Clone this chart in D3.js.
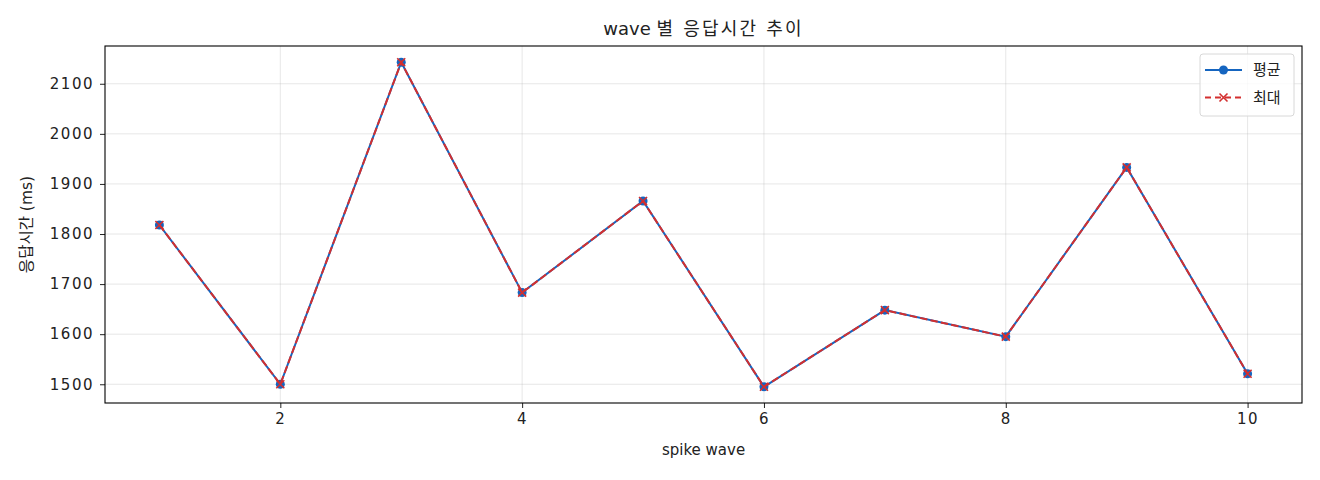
<!DOCTYPE html>
<html>
<head>
<meta charset="utf-8">
<script src="https://cdn.jsdelivr.net/npm/d3@7"></script>
<style>
  body { margin: 0; background: #fff; }
  text { font-family: "DejaVu Sans", "Noto Sans CJK KR", sans-serif; fill: #222; }
</style>
</head>
<body>
<div id="chart"></div>
<script>
// Data
const waves = [1, 2, 3, 4, 5, 6, 7, 8, 9, 10];
const avgMs = [1818, 1500, 2143, 1683, 1866, 1495, 1648, 1595, 1933, 1521];
const maxMs = [1818, 1500, 2143, 1683, 1866, 1495, 1648, 1595, 1933, 1521];
const xTicks = [2, 4, 6, 8, 10];
const yTicks = [1500, 1600, 1700, 1800, 1900, 2000, 2100];

const width = 1320, height = 480;
const margin = { top: 46, right: 18, bottom: 77, left: 105 };
const innerW = width - margin.left - margin.right;
const innerH = height - margin.top - margin.bottom;

const svg = d3.select('#chart')
    .append('svg')
    .attr('width', width)
    .attr('height', height);

const g = svg.append('g')
    .attr('transform', `translate(${margin.left},${margin.top})`);

// Scales with matplotlib-style 5% padding
const xPad = (d3.max(waves) - d3.min(waves)) * 0.05;
const x = d3.scaleLinear()
    .domain([d3.min(waves) - xPad, d3.max(waves) + xPad])
    .range([0, innerW]);

const yMin = d3.min(avgMs.concat(maxMs)), yMax = d3.max(avgMs.concat(maxMs));
const yPad = (yMax - yMin) * 0.05;
const y = d3.scaleLinear()
    .domain([yMin - yPad, yMax + yPad])
    .range([innerH, 0]);

// Grid
g.append('g')
    .selectAll('line')
    .data(xTicks)
    .enter()
    .append('line')
    .attr('x1', d => x(d)).attr('x2', d => x(d))
    .attr('y1', 0).attr('y2', innerH)
    .attr('stroke', '#b0b0b0').attr('stroke-opacity', 0.3).attr('stroke-width', 1);

g.append('g')
    .selectAll('line')
    .data(yTicks)
    .enter()
    .append('line')
    .attr('x1', 0).attr('x2', innerW)
    .attr('y1', d => y(d)).attr('y2', d => y(d))
    .attr('stroke', '#b0b0b0').attr('stroke-opacity', 0.3).attr('stroke-width', 1);

// Axes
const xAxis = g.append('g')
    .attr('transform', `translate(0,${innerH})`)
    .call(d3.axisBottom(x).tickValues(xTicks).tickFormat(d3.format('d'))
        .tickSize(5).tickPadding(5).tickSizeOuter(0));
const yAxis = g.append('g')
    .call(d3.axisLeft(y).tickValues(yTicks).tickFormat(d3.format('d'))
        .tickSize(5).tickPadding(6).tickSizeOuter(0));

[xAxis, yAxis].forEach(a => {
    a.attr('font-family', null).attr('font-size', null);
    a.select('.domain').remove();
    a.selectAll('text')
        .style('font-size', '15px')
        .style('letter-spacing', '1.5px')
        .attr('fill', '#222');
    a.selectAll('line').attr('stroke', '#222');
});

// Frame
g.append('rect')
    .attr('width', innerW).attr('height', innerH)
    .attr('fill', 'none').attr('stroke', '#000').attr('stroke-width', 1.1);

// Lines
const blue = '#1565c0', red = '#d32f2f';
const line = d3.line().x((d, i) => x(waves[i])).y(d => y(d));

g.append('path')
    .datum(avgMs)
    .attr('d', line)
    .attr('fill', 'none')
    .attr('stroke', blue)
    .attr('stroke-width', 2);

g.selectAll('circle.avg')
    .data(avgMs)
    .enter()
    .append('circle')
    .attr('class', 'avg')
    .attr('cx', (d, i) => x(waves[i]))
    .attr('cy', d => y(d))
    .attr('r', 4.5)
    .attr('fill', blue);

g.append('path')
    .datum(maxMs)
    .attr('d', line)
    .attr('fill', 'none')
    .attr('stroke', red)
    .attr('stroke-width', 2)
    .attr('stroke-dasharray', '7.4,3.2');

const xMark = 4;
g.selectAll('path.maxmark')
    .data(maxMs)
    .enter()
    .append('path')
    .attr('class', 'maxmark')
    .attr('d', (d, i) => {
        const cx = x(waves[i]), cy = y(d);
        return `M${cx - xMark},${cy - xMark}L${cx + xMark},${cy + xMark}M${cx - xMark},${cy + xMark}L${cx + xMark},${cy - xMark}`;
    })
    .attr('stroke', red)
    .attr('stroke-width', 1.6)
    .attr('fill', 'none');

// Title and labels
const title = svg.append('text')
    .attr('x', margin.left + innerW / 2)
    .attr('y', 35)
    .attr('text-anchor', 'middle')
    .style('font-size', '18px');
title.append('tspan').text('wave ');
title.append('tspan').style('letter-spacing', '2.2px').text('별 응답시간 추이');

svg.append('text')
    .attr('x', margin.left + innerW / 2)
    .attr('y', 455)
    .attr('text-anchor', 'middle')
    .style('font-size', '15px')
    .text('spike wave');

svg.append('text')
    .attr('transform', `translate(32,${margin.top + innerH / 2}) rotate(-90)`)
    .attr('text-anchor', 'middle')
    .style('font-size', '15.5px')
    .text('응답시간 (ms)');

// Legend
const legend = svg.append('g')
    .attr('transform', `translate(${width - margin.right - 102}, 54)`);

legend.append('rect')
    .attr('width', 94).attr('height', 62).attr('rx', 3)
    .attr('fill', '#fff').attr('fill-opacity', 0.8)
    .attr('stroke', '#d8d8d8');

const legendItems = [
    { label: '평균', color: blue, dash: null, marker: 'circle' },
    { label: '최대', color: red, dash: '7.4,3.2', marker: 'x' }
];

legendItems.forEach((item, i) => {
    const ly = 16 + i * 27.5;
    legend.append('line')
        .attr('x1', 5).attr('x2', 42)
        .attr('y1', ly).attr('y2', ly)
        .attr('stroke', item.color).attr('stroke-width', 2)
        .attr('stroke-dasharray', item.dash ? '6,4' : null);
    if (item.marker === 'circle') {
        legend.append('circle').attr('cx', 23.5).attr('cy', ly).attr('r', 4.5).attr('fill', item.color);
    } else {
        legend.append('path')
            .attr('d', `M${23.5 - xMark},${ly - xMark}L${23.5 + xMark},${ly + xMark}M${23.5 - xMark},${ly + xMark}L${23.5 + xMark},${ly - xMark}`)
            .attr('stroke', item.color).attr('stroke-width', 1.6);
    }
    legend.append('text')
        .attr('x', 53).attr('y', ly + 5)
        .style('font-size', '15px')
        .text(item.label);
});
</script>
</body>
</html>
